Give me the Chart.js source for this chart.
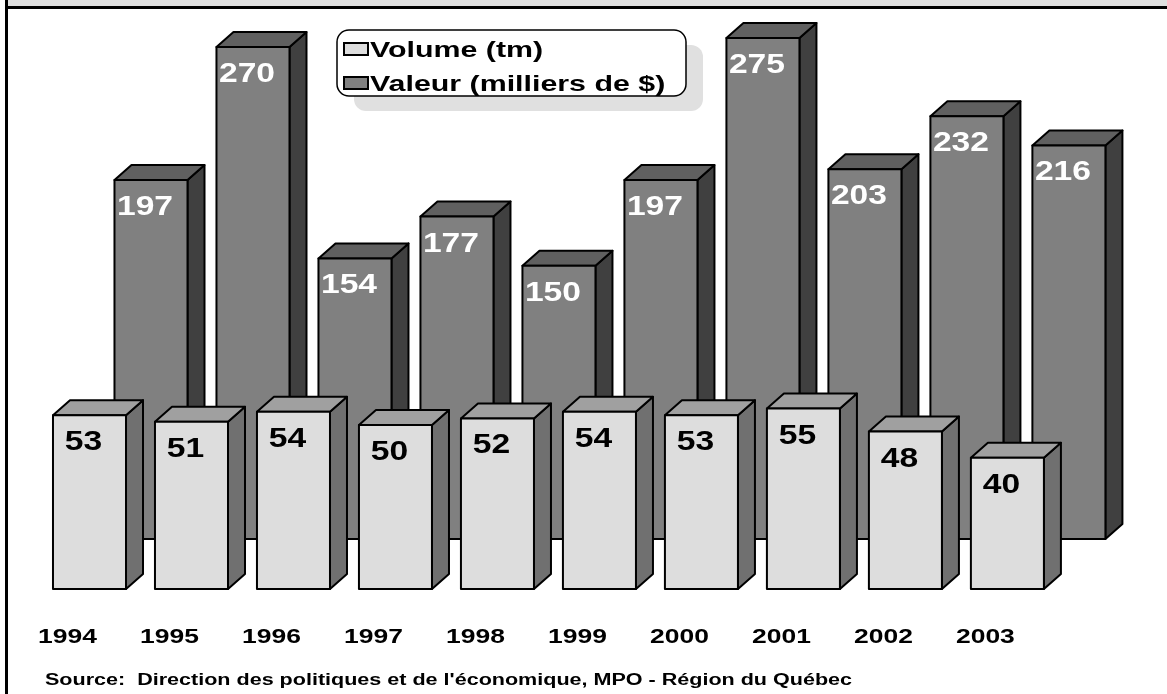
<!DOCTYPE html>
<html lang="fr">
<head>
<meta charset="UTF-8">
<title>Volume et valeur</title>
<script src="https://cdn.jsdelivr.net/npm/chart.js"></script>
<style>
  html, body { margin: 0; padding: 0; background: #fff; }
  #wrap { width: 1167px; height: 694px; }
</style>
</head>
<body>
<div id="wrap"><canvas id="chart" width="1167" height="694"></canvas></div>
<script>
// data
const years = ['1994', '1995', '1996', '1997', '1998', '1999', '2000', '2001', '2002', '2003'];
const volume = [53, 51, 54, 50, 52, 54, 53, 55, 48, 40];
const valeur = [197, 270, 154, 177, 150, 197, 275, 203, 232, 216];
const seriesLabels = ['Volume (tm)', 'Valeur (milliers de $)'];
const sourceText = "Source:  Direction des politiques et de l'économique, MPO - Région du Québec";

const FONT = '"Liberation Sans", Arial, sans-serif';
const DX = 17, DY = 15; // depth of each bar

// face colours: front, side, top
const faces = [
    { front: '#dddddd', side: '#707070', top: '#a0a0a0', text: '#000000' },
    { front: '#808080', side: '#404040', top: '#606060', text: '#ffffff' }
];

function stretchText(ctx, text, x, y, sx, align) {
    ctx.save();
    ctx.translate(x, y);
    ctx.scale(sx, 1);
    ctx.textAlign = align || 'left';
    ctx.fillText(text, 0, 0);
    ctx.restore();
}

function poly(ctx, pts, fill) {
    ctx.beginPath();
    ctx.moveTo(pts[0][0], pts[0][1]);
    for (let i = 1; i < pts.length; i++) ctx.lineTo(pts[i][0], pts[i][1]);
    ctx.closePath();
    ctx.fillStyle = fill;
    ctx.fill();
    ctx.stroke();
}

const bars3d = {
    id: 'bars3d',
    beforeDraw(chart) {
        const ctx = chart.ctx;
        ctx.save();
        ctx.fillStyle = '#ffffff';
        ctx.fillRect(0, 0, chart.width, chart.height);
        ctx.fillStyle = '#e0e0e0';
        ctx.fillRect(8, 0, chart.width - 8, 6);
        ctx.fillStyle = '#000000';
        ctx.fillRect(5, 6, chart.width - 5, 3);
        ctx.fillRect(5, 0, 3, chart.height);
        ctx.restore();
    },
    beforeDatasetDraw(chart, args) {
        const ctx = chart.ctx;
        const c = faces[args.index];
        ctx.save();
        ctx.strokeStyle = '#000';
        ctx.lineWidth = 2;
        ctx.lineJoin = 'round';
        args.meta.data.forEach(bar => {
            const l = bar.x - bar.width / 2, r = bar.x + bar.width / 2;
            const t = bar.y, b = bar.base;
            poly(ctx, [[r, t], [r + DX, t - DY], [r + DX, b - DY], [r, b]], c.side);
            poly(ctx, [[l, t], [l + DX, t - DY], [r + DX, t - DY], [r, t]], c.top);
        });
        ctx.restore();
    },
    afterDatasetDraw(chart, args) {
        const ctx = chart.ctx;
        const c = faces[args.index];
        const vals = args.index === 0 ? volume : valeur;
        ctx.save();
        ctx.strokeStyle = '#000';
        ctx.lineWidth = 2;
        ctx.lineJoin = 'round';
        ctx.font = 'bold 28px ' + FONT;
        ctx.fillStyle = c.text;
        args.meta.data.forEach((bar, i) => {
            const l = bar.x - bar.width / 2;
            ctx.strokeRect(l, bar.y, bar.width, bar.base - bar.y);
            stretchText(ctx, String(vals[i]), bar.x - 6, bar.y + 35, 1.2, 'center');
        });
        ctx.restore();
    },
    afterDraw(chart) {
        const ctx = chart.ctx;
        const xs = chart.scales.x;
        ctx.save();
        // year labels
        ctx.fillStyle = '#000';
        ctx.font = 'bold 21px ' + FONT;
        years.forEach((y, i) => {
            stretchText(ctx, y, xs.getPixelForValue(i) - 22, 643, 1.26, 'center');
        });
        // source line
        ctx.font = 'bold 16px ' + FONT;
        const w = ctx.measureText(sourceText).width;
        stretchText(ctx, sourceText, 45, 685, 807 / w, 'left');

        // legend
        ctx.fillStyle = '#e0e0e0';
        ctx.beginPath();
        ctx.roundRect(354, 45, 349, 66, 12);
        ctx.fill();
        ctx.fillStyle = '#fff';
        ctx.strokeStyle = '#000';
        ctx.lineWidth = 1.5;
        ctx.beginPath();
        ctx.roundRect(337, 30, 349, 66, 12);
        ctx.fill();
        ctx.stroke();
        ctx.font = 'bold 22px ' + FONT;
        const rows = [49, 83];
        chart.data.datasets.forEach((ds, i) => {
            ctx.fillStyle = faces[i].front;
            ctx.lineWidth = 2;
            ctx.fillRect(344, rows[i] - 6, 24, 12);
            ctx.strokeRect(344, rows[i] - 6, 24, 12);
            ctx.fillStyle = '#000';
            stretchText(ctx, ds.label, 370, rows[i] + 8, 1.38, 'left');
        });
        ctx.restore();
    }
};

new Chart(document.getElementById('chart'), {
    type: 'bar',
    data: {
        labels: years,
        datasets: [
            {
                label: seriesLabels[0],
                data: volume,
                xAxisID: 'x',
                yAxisID: 'y',
                backgroundColor: faces[0].front,
                borderWidth: 0,
                grouped: false,
                categoryPercentage: 1,
                barPercentage: 0.716,
                clip: false
            },
            {
                label: seriesLabels[1],
                data: valeur.map((v, i) => ({ x: i, y: v })),
                xAxisID: 'x2',
                yAxisID: 'y2',
                backgroundColor: faces[1].front,
                borderWidth: 0,
                grouped: false,
                categoryPercentage: 1,
                barPercentage: 0.716,
                clip: false
            }
        ]
    },
    options: {
        responsive: false,
        animation: false,
        layout: { padding: { left: 38.5, right: 108.6, top: 30, bottom: 105 } },
        plugins: {
            legend: { display: false },
            tooltip: { enabled: false }
        },
        scales: {
            x: { type: 'category', display: false, offset: true },
            // back row sits 62px to the right and 50px above the front row
            x2: {
                type: 'linear', display: false, offset: false, min: -1.103, max: 8.897,
                afterBuildTicks: (s) => { s.ticks = years.map((_, i) => ({ value: i })); }
            },
            y: { display: false, min: 0, max: 170.4 },
            y2: { display: false, min: -27.44, max: 279.36 }
        }
    },
    plugins: [bars3d]
});
</script>
</body>
</html>
